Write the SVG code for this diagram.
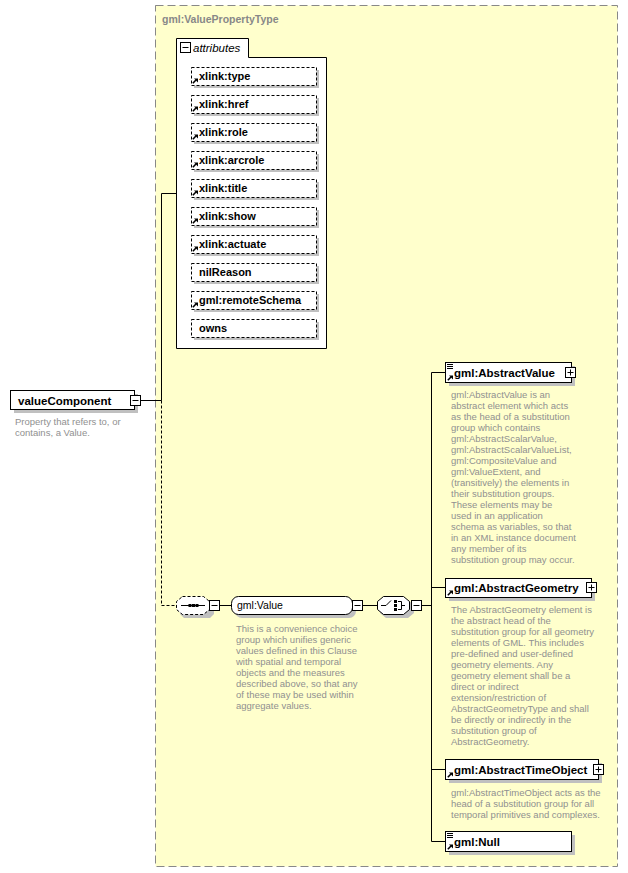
<svg xmlns="http://www.w3.org/2000/svg" width="628" height="873" viewBox="0 0 628 873">
<defs>
<style>
.lbl{font-family:"Liberation Sans",Arial,sans-serif;font-weight:bold;font-size:11.5px;fill:#000}
.att{font-family:"Liberation Sans",Arial,sans-serif;font-weight:bold;font-size:11px;fill:#000}
.desc{font-family:"Liberation Sans",Arial,sans-serif;font-size:9.5px;fill:#909090}
.box{fill:#fff;stroke:#000;stroke-width:1}
.dbox{fill:#fff;stroke:#000;stroke-width:1;stroke-dasharray:3,2}
.sh{fill:#c0c0c0}
.ln{stroke:#000;stroke-width:1;fill:none}
.dl{stroke:#000;stroke-width:1;fill:none;stroke-dasharray:3,2}
.ic{stroke:#000;stroke-width:1.6;fill:none}
</style>
<g id="arrowIcon"><path d="M0.8,5.2 L4,2" class="ic"/><path d="M2,0.5 L6,0.5 L6,4.5 Z" fill="#000"/></g>
<g id="listIcon"><path d="M0,0.5 H6 M0,2.5 H6 M0,4.5 H6" stroke="#000" stroke-width="1"/></g>
<g id="minus"><rect x="0.5" y="0.5" width="10" height="10" class="box"/><path d="M2.5,5.5 H8.5" stroke="#000"/></g>
<g id="plus"><rect x="0.5" y="0.5" width="10" height="10" class="box"/><path d="M2.5,5.5 H8.5 M5.5,2.5 V8.5" stroke="#000"/></g>
</defs>

<!-- outer complex type -->
<g id="type-ValuePropertyType">
<rect x="155.5" y="5.5" width="462" height="861" fill="#ffffcc" stroke="#888" stroke-width="1" stroke-dasharray="8,4"/>
<text x="162" y="23" font-family="Liberation Sans,Arial,sans-serif" font-weight="bold" font-size="10.5px" fill="#888">gml:ValuePropertyType</text>
</g>

<!-- connectors -->
<g id="connectors">
<path d="M141,400.5 H161.5 V193.5 H176" class="ln"/>
<path d="M161.5,400.5 V605.5 H176" class="dl"/>
<path d="M219,605.5 H231" class="ln"/>
<path d="M363,605.5 H377" class="ln"/>
<path d="M422,605.5 H431.5" class="ln"/>
<path d="M431.5,372.5 V841.5" class="ln"/>
<path d="M431.5,372.5 H445 M431.5,587.5 H445 M431.5,769.5 H445 M431.5,841.5 H445" class="ln"/>
</g>

<!-- attributes -->
<g id="attributes">
<path d="M176.5,348.5 V38.5 H248.5 V57.5 H326.5 V348.5 Z" fill="#fff" stroke="#000"/>
<use href="#minus" x="180" y="42"/>
<text x="193" y="52" font-family="Liberation Sans,Arial,sans-serif" font-style="italic" font-size="11.5px" fill="#000">attributes</text>
</g>
<g id="attr-xlink-type"><rect x="194" y="70" width="125" height="18" class="sh"/><rect x="191.5" y="67.5" width="125" height="18" class="dbox"/><use href="#arrowIcon" x="192" y="78"/><text x="199" y="80" class="att">xlink:type</text></g>
<g id="attr-xlink-href"><rect x="194" y="98" width="125" height="18" class="sh"/><rect x="191.5" y="95.5" width="125" height="18" class="dbox"/><use href="#arrowIcon" x="192" y="106"/><text x="199" y="108" class="att">xlink:href</text></g>
<g id="attr-xlink-role"><rect x="194" y="126" width="125" height="18" class="sh"/><rect x="191.5" y="123.5" width="125" height="18" class="dbox"/><use href="#arrowIcon" x="192" y="134"/><text x="199" y="136" class="att">xlink:role</text></g>
<g id="attr-xlink-arcrole"><rect x="194" y="154" width="125" height="18" class="sh"/><rect x="191.5" y="151.5" width="125" height="18" class="dbox"/><use href="#arrowIcon" x="192" y="162"/><text x="199" y="164" class="att">xlink:arcrole</text></g>
<g id="attr-xlink-title"><rect x="194" y="182" width="125" height="18" class="sh"/><rect x="191.5" y="179.5" width="125" height="18" class="dbox"/><use href="#arrowIcon" x="192" y="190"/><text x="199" y="192" class="att">xlink:title</text></g>
<g id="attr-xlink-show"><rect x="194" y="210" width="125" height="18" class="sh"/><rect x="191.5" y="207.5" width="125" height="18" class="dbox"/><use href="#arrowIcon" x="192" y="218"/><text x="199" y="220" class="att">xlink:show</text></g>
<g id="attr-xlink-actuate"><rect x="194" y="238" width="125" height="18" class="sh"/><rect x="191.5" y="235.5" width="125" height="18" class="dbox"/><use href="#arrowIcon" x="192" y="246"/><text x="199" y="248" class="att">xlink:actuate</text></g>
<g id="attr-nilReason"><rect x="194" y="266" width="125" height="18" class="sh"/><rect x="191.5" y="263.5" width="125" height="18" class="dbox"/><text x="199" y="276" class="att">nilReason</text></g>
<g id="attr-remoteSchema"><rect x="194" y="294" width="125" height="18" class="sh"/><rect x="191.5" y="291.5" width="125" height="18" class="dbox"/><use href="#arrowIcon" x="192" y="302"/><text x="199" y="304" class="att">gml:remoteSchema</text></g>
<g id="attr-owns"><rect x="194" y="322" width="125" height="18" class="sh"/><rect x="191.5" y="319.5" width="125" height="18" class="dbox"/><text x="199" y="332" class="att">owns</text></g>

<!-- valueComponent -->
<g id="valueComponent">
<rect x="14" y="394" width="124" height="19" class="sh"/>
<rect x="10.5" y="390.5" width="124" height="19" class="box"/>
<text x="18" y="405" class="lbl">valueComponent</text>
<use href="#minus" x="130" y="395"/>
<text class="desc"><tspan x="15" y="425">Property that refers to, or</tspan><tspan x="15" y="436">contains, a Value.</tspan></text>
</g>

<!-- sequence -->
<g id="sequence">
<path d="M180,600 H206 L214,604 V614 L210,618 H184 L180,614 Z" class="sh"/>
<path d="M182.5,596.5 H203.5 L209.5,601.5 V609.5 L203.5,614.5 H182.5 L176.5,609.5 V601.5 Z" class="dbox"/>
<path d="M181,605.5 H205" class="ln"/>
<rect x="188.5" y="604" width="3" height="3" fill="#000"/><rect x="192" y="604" width="3" height="3" fill="#000"/><rect x="195.5" y="604" width="3" height="3" fill="#000"/>
<use href="#minus" x="209" y="600"/>
</g>

<!-- gml:Value group -->
<g id="group-Value">
<rect x="235" y="599" width="121" height="19" rx="7" class="sh"/>
<rect x="231.5" y="596.5" width="121" height="18" rx="7" class="box"/>
<text x="237" y="609" font-family="Liberation Sans,Arial,sans-serif" font-size="10.5px" fill="#000">gml:Value</text>
<use href="#minus" x="352" y="600"/>
<text class="desc"><tspan x="236" y="632">This is a convenience choice</tspan><tspan x="236" y="643">group which unifies generic</tspan><tspan x="236" y="654">values defined in this Clause</tspan><tspan x="236" y="665">with spatial and temporal</tspan><tspan x="236" y="676">objects and the measures</tspan><tspan x="236" y="687">described above, so that any</tspan><tspan x="236" y="698">of these may be used within</tspan><tspan x="236" y="709">aggregate values.</tspan></text>
</g>

<!-- choice -->
<g id="choice">
<path d="M386,600 H408 L414,605 V613 L408,618 H386 L380,613 V605 Z" class="sh"/>
<path d="M383.5,596.5 H403.5 L409.5,601.5 V609.5 L403.5,614.5 H383.5 L377.5,609.5 V601.5 Z" class="box"/>
<path d="M381,605.5 H386 L391,600.5" class="ln"/>
<rect x="394" y="600" width="3" height="3" fill="#000"/><rect x="394" y="604" width="3" height="3" fill="#000"/><rect x="394" y="608" width="3" height="3" fill="#000"/>
<path d="M398,601.5 H401.5 V609.5 H398 M401.5,605.5 H405" class="ln"/>
<use href="#minus" x="411" y="600"/>
</g>

<!-- gml:AbstractValue -->
<g id="el-AbstractValue">
<rect x="449" y="366" width="126" height="20" class="sh"/>
<rect x="445.5" y="362.5" width="126" height="20" class="box"/>
<use href="#listIcon" x="447" y="364"/>
<use href="#arrowIcon" x="447" y="375"/>
<text x="454" y="377" class="lbl">gml:AbstractValue</text>
<use href="#plus" x="565" y="367"/>
<text class="desc"><tspan x="451" y="398">gml:AbstractValue is an</tspan><tspan x="451" y="409">abstract element which acts</tspan><tspan x="451" y="420">as the head of a substitution</tspan><tspan x="451" y="431">group which contains</tspan><tspan x="451" y="442">gml:AbstractScalarValue,</tspan><tspan x="451" y="453">gml:AbstractScalarValueList,</tspan><tspan x="451" y="464">gml:CompositeValue and</tspan><tspan x="451" y="475">gml:ValueExtent, and</tspan><tspan x="451" y="486">(transitively) the elements in</tspan><tspan x="451" y="497">their substitution groups.</tspan><tspan x="451" y="508">These elements may be</tspan><tspan x="451" y="519">used in an application</tspan><tspan x="451" y="530">schema as variables, so that</tspan><tspan x="451" y="541">in an XML instance document</tspan><tspan x="451" y="552">any member of its</tspan><tspan x="451" y="563">substitution group may occur.</tspan></text>
</g>

<!-- gml:AbstractGeometry -->
<g id="el-AbstractGeometry">
<rect x="449" y="582" width="146" height="19" class="sh"/>
<rect x="445.5" y="578.5" width="146" height="19" class="box"/>
<use href="#arrowIcon" x="447" y="590"/>
<text x="454" y="592" class="lbl">gml:AbstractGeometry</text>
<use href="#plus" x="586" y="582"/>
<text class="desc"><tspan x="451" y="613">The AbstractGeometry element is</tspan><tspan x="451" y="624">the abstract head of the</tspan><tspan x="451" y="635">substitution group for all geometry</tspan><tspan x="451" y="646">elements of GML. This includes</tspan><tspan x="451" y="657">pre-defined and user-defined</tspan><tspan x="451" y="668">geometry elements. Any</tspan><tspan x="451" y="679">geometry element shall be a</tspan><tspan x="451" y="690">direct or indirect</tspan><tspan x="451" y="701">extension/restriction of</tspan><tspan x="451" y="712">AbstractGeometryType and shall</tspan><tspan x="451" y="723">be directly or indirectly in the</tspan><tspan x="451" y="734">substitution group of</tspan><tspan x="451" y="745">AbstractGeometry.</tspan></text>
</g>

<!-- gml:AbstractTimeObject -->
<g id="el-AbstractTimeObject">
<rect x="449" y="763" width="153" height="20" class="sh"/>
<rect x="445.5" y="759.5" width="153" height="20" class="box"/>
<use href="#arrowIcon" x="447" y="772"/>
<text x="454" y="774" class="lbl">gml:AbstractTimeObject</text>
<use href="#plus" x="593" y="764"/>
<text class="desc"><tspan x="451" y="796">gml:AbstractTimeObject acts as the</tspan><tspan x="451" y="807">head of a substitution group for all</tspan><tspan x="451" y="818">temporal primitives and complexes.</tspan></text>
</g>

<!-- gml:Null -->
<g id="el-Null">
<rect x="449" y="835" width="126" height="20" class="sh"/>
<rect x="445.5" y="831.5" width="126" height="20" class="box"/>
<use href="#listIcon" x="447" y="833"/>
<use href="#arrowIcon" x="447" y="844"/>
<text x="454" y="846" class="lbl">gml:Null</text>
</g>
</svg>
